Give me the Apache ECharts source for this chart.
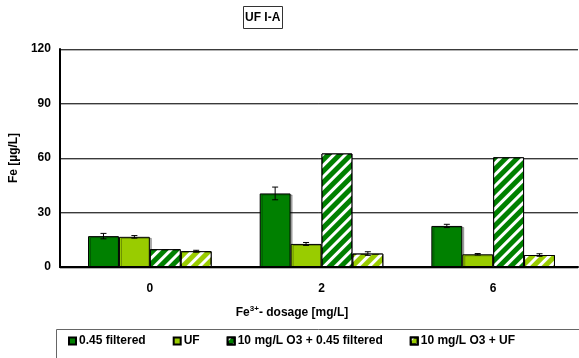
<!DOCTYPE html>
<html>
<head>
<meta charset="utf-8">
<script src="https://cdn.jsdelivr.net/npm/echarts@6/dist/echarts.min.js"></script>
<style>
  html, body { margin: 0; padding: 0; background: #fff; }
  #chart { width: 579px; height: 358px; }
</style>
</head>
<body>
<div id="chart"></div>
<script>
// Fe-Konzentration, UF I-A
var categories = ['0', '2', '6'];
var yTicks = [0, 30, 60, 90, 120];

var filtered045 = [17.0, 40.5, 22.6];
var uf = [16.6, 12.7, 7.0];
var o3Filtered = [9.8, 62.5, 60.4];
var o3Uf = [8.7, 7.4, 6.6];

// Fehlerbalken (+/-)
var err045 = [1.5, 3.5, 0.9];
var errUf = [0.7, 0.8, 0.4];
var errO3Filtered = [0, 0, 0];
var errO3Uf = [0.5, 1.0, 0.7];

var names = ['0.45 filtered', 'UF', '10 mg/L O3 + 0.45 filtered', '10 mg/L O3 + UF'];
var font = 'Liberation Sans, Arial, sans-serif';
var dark = '#008000', light = '#99cc00';
var gapPct = 0.28;
var lbl = { fontFamily: font, fontSize: 12, fontWeight: 'bold', color: '#000' };

var hatch = {
    symbol: 'rect',
    symbolSize: 1,
    color: '#ffffff',
    dashArrayX: [1, 0],
    dashArrayY: [3, 5],
    rotation: -Math.PI / 4
};

function barSeries(name, data, color, decal) {
    var style = {
        color: color,
        borderColor: '#000',
        borderWidth: 1
    };
    if (decal) {
        style.decal = hatch;
    } else {
        style.shadowColor = 'rgba(0,0,0,0.3)';
        style.shadowOffsetX = 2;
        style.shadowOffsetY = 1;
    }
    return {
        name: name,
        type: 'bar',
        xAxisIndex: 1,
        yAxisIndex: 1,
        data: data,
        barGap: 0,
        barCategoryGap: (gapPct * 100) + '%',
        itemStyle: style,
        emphasis: { disabled: true },
        z: 2
    };
}

function errSeries(values, errs, idx) {
    var d = [];
    for (var i = 0; i < values.length; i++) {
        if (errs[i] > 0) d.push([i, values[i] - errs[i], values[i] + errs[i]]);
    }
    return {
        type: 'custom',
        xAxisIndex: 1,
        yAxisIndex: 1,
        data: d,
        z: 5,
        silent: true,
        renderItem: function (params, api) {
            var band = api.size([1, 0])[0];
            var bw = band * (1 - gapPct) / 4;
            var c = api.coord([api.value(0), 0]);
            var x = c[0] + (idx - 1.5) * bw;
            var lo = api.coord([api.value(0), api.value(1)])[1];
            var hi = api.coord([api.value(0), api.value(2)])[1];
            var cap = 3;
            var st = { stroke: '#000', lineWidth: 1 };
            return {
                type: 'group',
                children: [
                    { type: 'line', shape: { x1: x, y1: lo, x2: x, y2: hi }, style: st },
                    { type: 'line', shape: { x1: x - cap, y1: lo, x2: x + cap, y2: lo }, style: st },
                    { type: 'line', shape: { x1: x - cap, y1: hi, x2: x + cap, y2: hi }, style: st }
                ]
            };
        }
    };
}

var chart = echarts.init(document.getElementById('chart'));
chart.setOption({
    animation: false,
    textStyle: { fontFamily: font },
    title: [
        {
            text: 'UF I-A',
            left: 243,
            top: 6,
            padding: [6, 2, 5, 2],
            borderColor: '#333',
            borderWidth: 1,
            textStyle: lbl
        },
        {
            text: '{a|Fe}{s|3+}{a|- dosage [mg/L]}',
            left: 292,
            top: 305,
            textAlign: 'center',
            padding: 0,
            textStyle: {
                rich: {
                    a: { fontFamily: font, fontSize: 12, fontWeight: 'bold', color: '#000', verticalAlign: 'bottom' },
                    s: { fontFamily: font, fontSize: 8, fontWeight: 'bold', color: '#000', verticalAlign: 'top', padding: [0, 0, 6, 0] }
                }
            }
        }
    ],
    // Rahmen der Legende
    graphic: [{
        type: 'rect',
        left: 54,
        top: 327,
        shape: { width: 560, height: 29 },
        style: { fill: 'none', stroke: '#666', lineWidth: 1 },
        silent: true
    }],
    legend: {
        left: 68,
        top: 335,
        padding: 0,
        itemWidth: 7,
        itemHeight: 7,
        itemGap: 27,
        icon: 'rect',
        selectedMode: false,
        data: names,
        textStyle: { fontFamily: font, fontSize: 12, fontWeight: 'bold', color: '#000', padding: [0, 0, 0, -2] }
    },
    grid: [
        { left: 59, right: 1, top: 49, bottom: 91 },
        { left: 64, right: -4, top: 49, bottom: 91 }
    ],
    xAxis: [
        {
            gridIndex: 0,
            type: 'category',
            data: categories,
            axisLine: { lineStyle: { color: '#000', width: 2 } },
            axisTick: { show: false },
            axisLabel: { show: false }
        },
        {
            gridIndex: 1,
            type: 'category',
            data: categories,
            axisLine: { show: false },
            axisTick: { show: false },
            axisLabel: Object.assign({ margin: 16 }, lbl)
        }
    ],
    yAxis: [
        {
            gridIndex: 0,
            type: 'value',
            min: yTicks[0],
            max: yTicks[yTicks.length - 1],
            interval: 30,
            name: 'Fe [µg/L]',
            nameLocation: 'middle',
            nameGap: 37,
            nameTextStyle: lbl,
            axisLine: { show: true, lineStyle: { color: '#000', width: 2 } },
            axisTick: { show: false },
            axisLabel: Object.assign({ margin: 9 }, lbl),
            splitLine: {
                lineStyle: { color: '#3a3a3a', width: 1, shadowColor: 'rgba(0,0,0,0.3)', shadowOffsetY: 1 }
            }
        },
        {
            gridIndex: 1,
            type: 'value',
            min: yTicks[0],
            max: yTicks[yTicks.length - 1],
            interval: 30,
            show: false,
            splitLine: { show: false }
        }
    ],
    series: [
        barSeries(names[0], filtered045, dark, false),
        barSeries(names[1], uf, light, false),
        barSeries(names[2], o3Filtered, dark, true),
        barSeries(names[3], o3Uf, light, true),
        errSeries(filtered045, err045, 0),
        errSeries(uf, errUf, 1),
        errSeries(o3Filtered, errO3Filtered, 2),
        errSeries(o3Uf, errO3Uf, 3)
    ]
});
</script>
</body>
</html>
